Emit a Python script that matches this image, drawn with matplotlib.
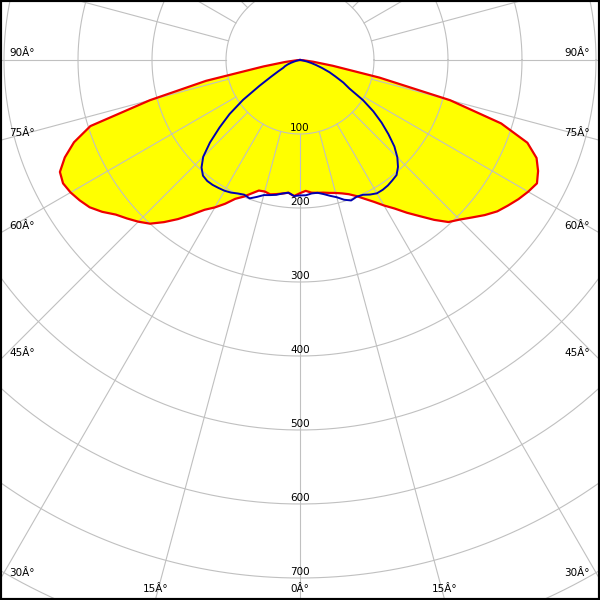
import numpy as np
import matplotlib
matplotlib.use('Agg')
import matplotlib.pyplot as plt

# gamma angles (deg from nadir), negative = left half
angles = np.arange(-90, 90.1, 2.5)

# intensity, cd/klm - red plane (filled)
plane_red = [0, 0, 5, 20, 50, 130, 210, 297, 325, 344, 358, 361, 358, 353, 347,
             337, 325, 317, 309, 300, 286, 271, 255, 240, 230, 219, 207, 200, 192,
             185, 184, 186, 184, 182, 180, 184,
             180,
             177, 180, 181, 182, 184, 186, 189, 193, 199, 207, 216, 227, 238, 252,
             266, 282, 297, 305, 315, 326, 336, 343, 350, 356, 361, 355, 346, 327,
             285, 210, 110, 45, 18, 5, 0, 0]

# intensity, cd/klm - blue plane
plane_blue = [0, 0, 0, 0, 2, 5, 8, 13, 18, 22, 25, 33, 45, 65, 94,
              120, 142, 165, 185, 197, 204, 206, 206, 205, 204, 202, 199, 197, 199,
              194, 189, 187, 185, 182, 180, 184,
              183,
              183, 181, 181, 184, 188, 192, 198, 202, 200, 201, 205, 208, 208, 207,
              205, 203, 196, 186, 173, 156, 139, 121, 101, 77, 66, 53, 43, 32,
              23, 16, 10, 5, 2, 0, 0, 0]

rings = [100, 200, 300, 400, 500, 600, 700]
angle_labels = [0, 15, 30, 45, 60, 75, 90]

px = 0.74  # pixels per cd
cx, cy = 300, 60  # centre of diagram in pixels (from top-left)

fig = plt.figure(figsize=(6, 6), dpi=100)
ax = fig.add_axes([0, 0, 1, 1])
xmin, xmax = -cx / px, (600 - cx) / px
ymin, ymax = -(600 - cy) / px, cy / px
ax.set_xlim(xmin, xmax)
ax.set_ylim(ymin, ymax)
ax.set_xticks([])
ax.set_yticks([])
for s in ax.spines.values():
    s.set_linewidth(3)
    s.set_color('black')

grid_col = '#c0c0c0'
t = np.linspace(0, 2 * np.pi, 721)
for r in range(100, 1000, 100):
    ax.plot(r * np.cos(t), r * np.sin(t), color=grid_col, lw=0.8, zorder=2)
for a in range(0, 360, 15):
    ar = np.radians(a)
    ax.plot([100 * np.sin(ar), 1500 * np.sin(ar)], [-100 * np.cos(ar), -1500 * np.cos(ar)],
            color=grid_col, lw=0.8, zorder=2)

g = np.radians(angles)
xr = np.array(plane_red) * np.sin(g)
yr = -np.array(plane_red) * np.cos(g)
xb = np.array(plane_blue) * np.sin(g)
yb = -np.array(plane_blue) * np.cos(g)

ax.fill(xr, yr, color='#ffff00', zorder=1, lw=0)
ax.plot(xr, yr, color='#ee0000', lw=1.6, zorder=3)
ax.plot(xb, yb, color='#0000b0', lw=1.4, zorder=3)

for r in rings:
    ax.text(0, -r + 6 / px, str(r), ha='center', va='center', fontsize=7.5, zorder=4)

for a in angle_labels:
    sides = [1] if a == 0 else [-1, 1]
    for sd in sides:
        dx = sd * np.sin(np.radians(a))
        dy = -np.cos(np.radians(a))
        tx = abs(xmin) / abs(dx) if abs(dx) > 1e-9 else np.inf
        ty = abs(ymin) / abs(dy) if abs(dy) > 1e-9 else np.inf
        if tx < ty:
            ey = dy * tx
            if sd < 0:
                ax.text(xmin + 9 / px, ey + 7 / px, f'{a}Â°', ha='left', va='center',
                        fontsize=7.5, zorder=4)
            else:
                ax.text(xmax - 10 / px, ey + 7 / px, f'{a}Â°', ha='right', va='center',
                        fontsize=7.5, zorder=4)
        else:
            ex = dx * ty
            ax.text(ex, ymin + 11 / px, f'{a}Â°', ha='center', va='center',
                    fontsize=7.5, zorder=4)

fig.savefig('out.png', dpi=100)
